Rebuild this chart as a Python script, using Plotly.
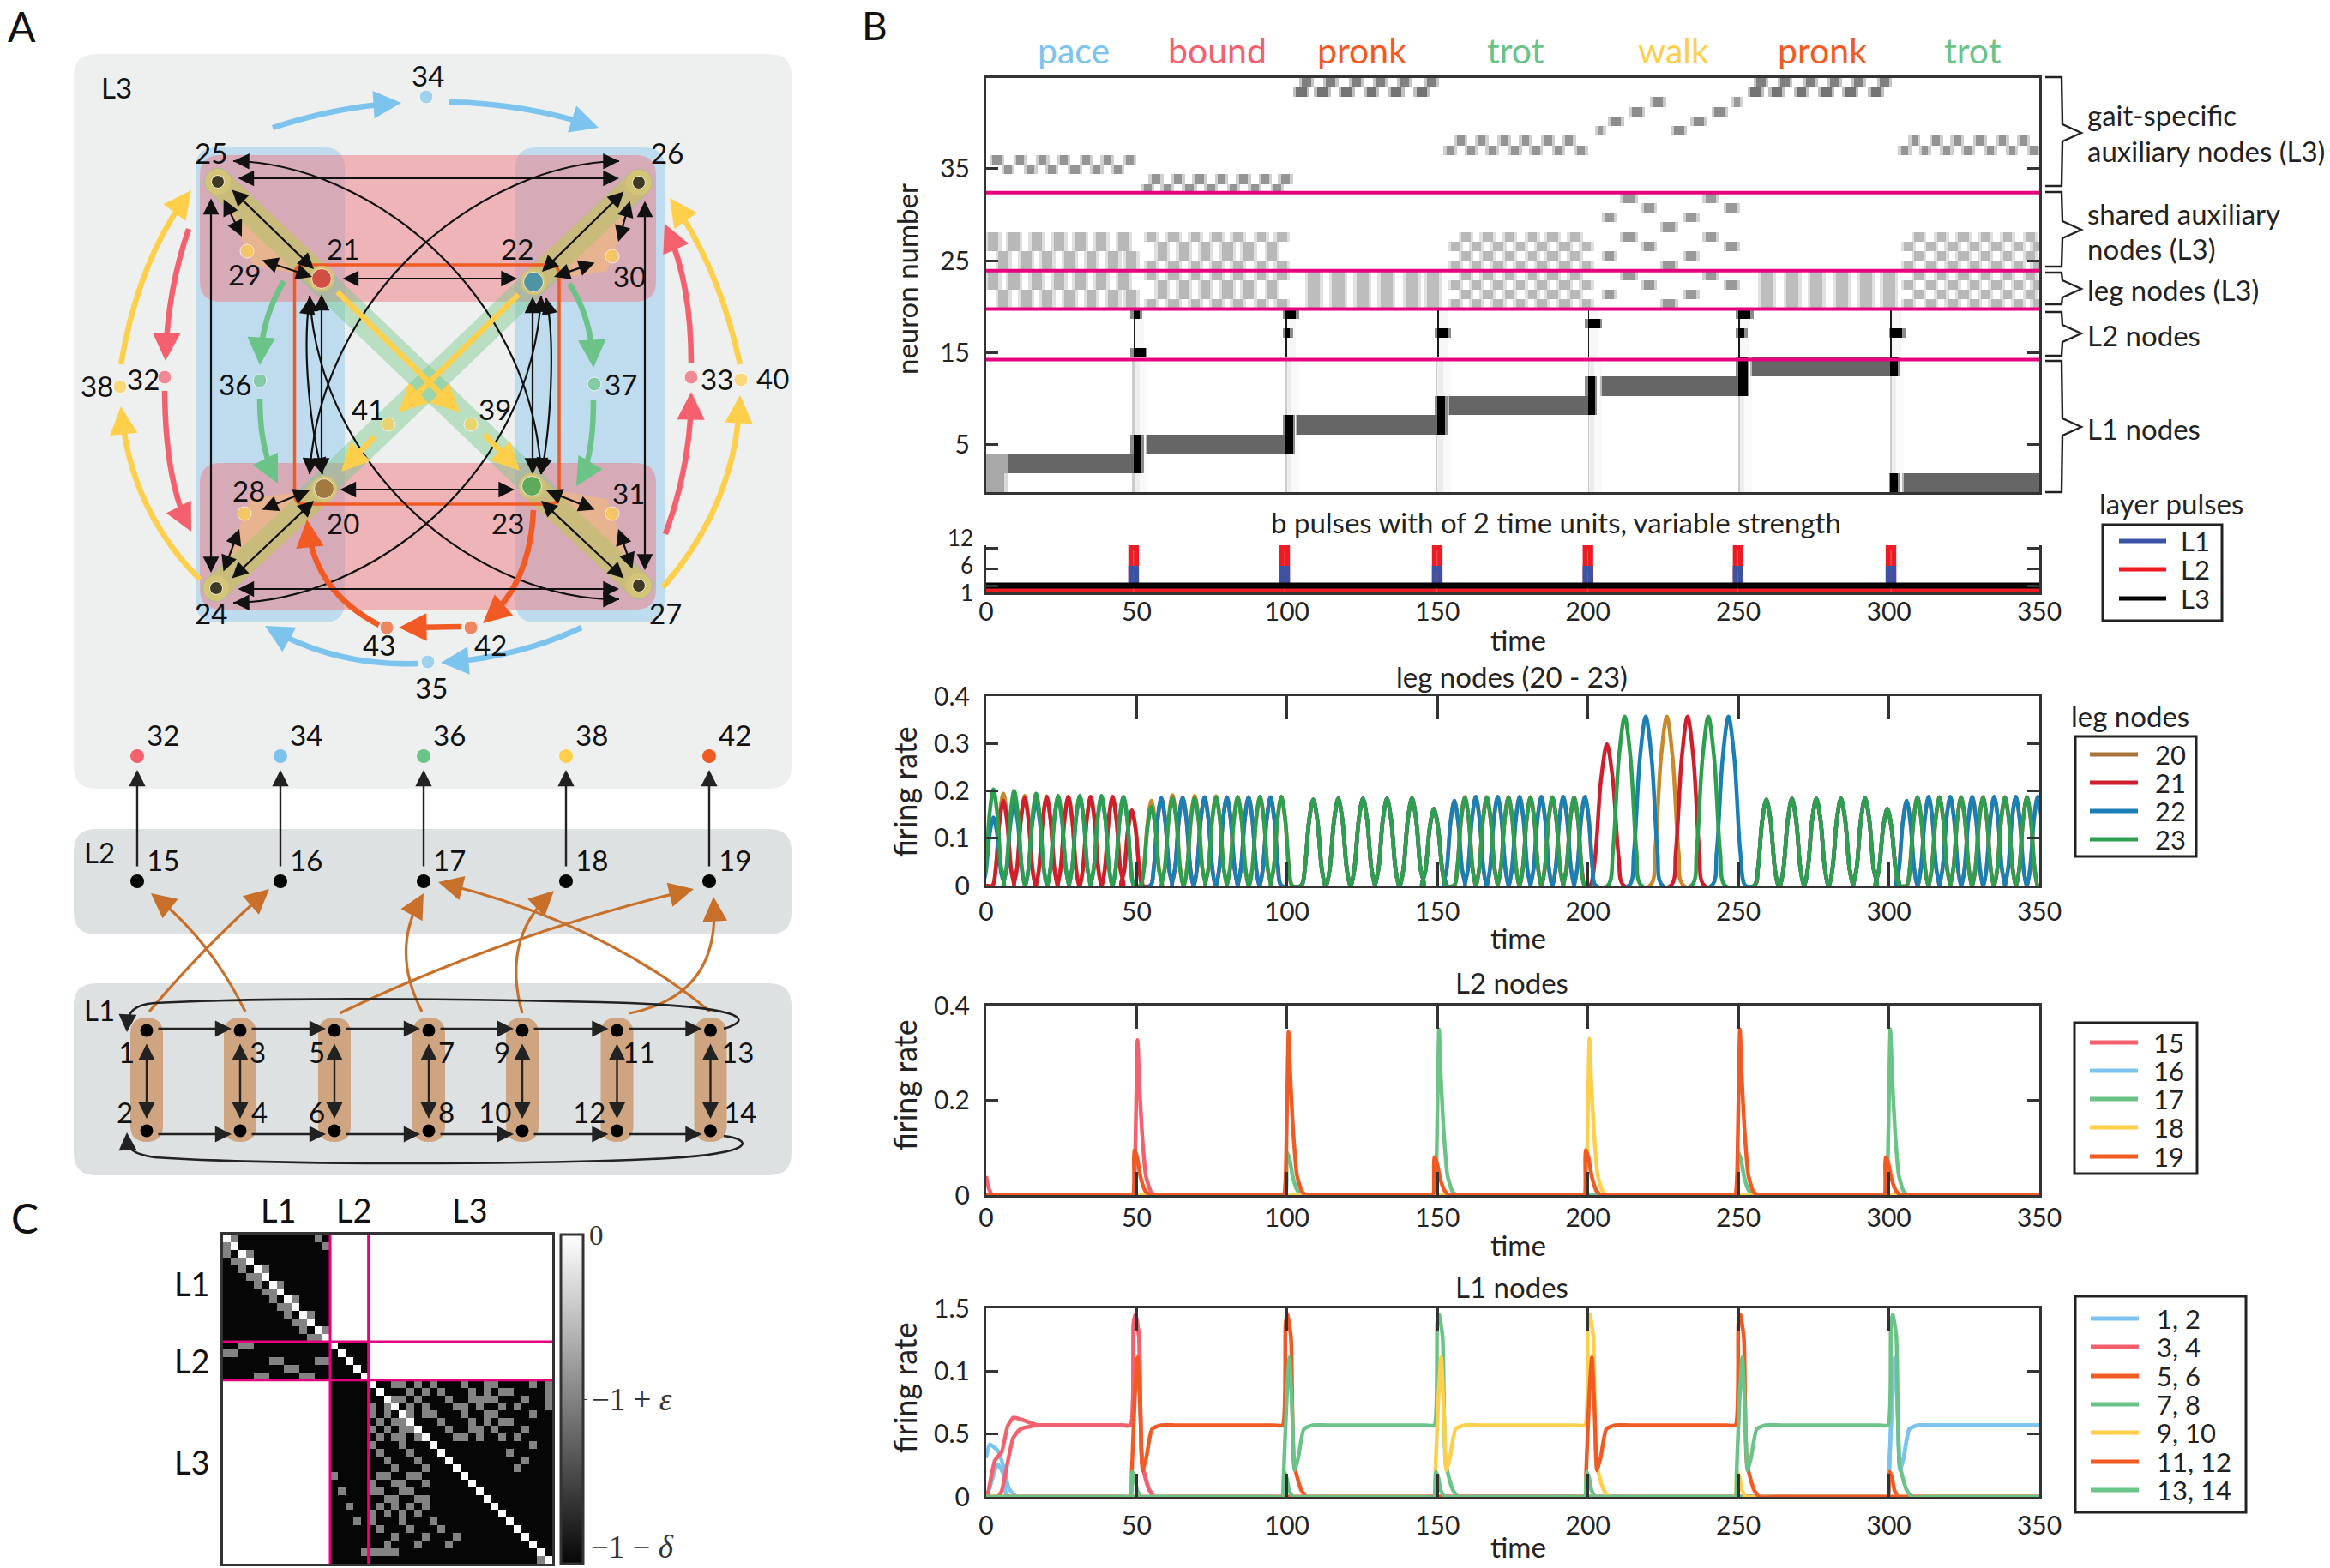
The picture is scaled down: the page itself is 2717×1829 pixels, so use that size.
import math
import numpy as np
import plotly.graph_objects as go

W, H = 2717, 1829
FONT = "Lato"
SERIF = "Liberation Serif"
DARK = "#333333"
C_PINK, C_SKY, C_MINT, C_YEL, C_ORG = "#f4606e", "#7cc4ee", "#6cc387", "#fdcf4b", "#f25a24"

# ---------------------------------------------------------------- panel B data
time_ticks = [0, 50, 100, 150, 200, 250, 300, 350]
pulse_times = [49, 99.2, 149.9, 200, 249.9, 300.7]
pulse_levels = {"L1": 6, "L2": 12}

gait_names = ["pace", "bound", "pronk", "trot", "walk", "pronk", "trot"]
gait_colors = [C_SKY, C_PINK, C_ORG, C_MINT, C_YEL, C_ORG, C_MINT]

# leg-node oscillation peaks, read per gait
pace_a_t = [2.4, 9.3, 16.6, 23.9, 31.1, 38.3, 45.6]
pace_b_t = [5.7, 12.8, 20.1, 27.3, 34.7, 42.0, 48.4]
bound_a_t = [54.9, 61.9, 69.3, 76.4, 83.6, 91.0, 98.1]
bound_b_t = [58.2, 65.3, 72.6, 80.0, 87.2, 94.5]
pronk1_t = [108.7, 117.0, 125.2, 133.2, 141.5, 148.8]
trot1_b_t = [155.6, 162.7, 170.0, 177.3, 184.5, 191.8, 199.0]
trot1_a_t = [159.1, 166.4, 173.6, 180.9, 188.2, 195.4]
pronk2_t = [259.3, 267.8, 275.9, 284.1, 292.1, 299.5]
trot2_b_t = [305.9, 313.2, 320.4, 327.7, 335.0, 342.2, 349.5]
trot2_a_t = [309.5, 316.8, 324.0, 331.3, 338.6, 345.9]

pace_a_h23 = [.203, .200, .194, .190, .190, .190, .188]
pace_a_h22 = [.144, .173, .176, .185, .188, .188, .188]
pace_b_h21 = [.179, .185, .187, .188, .188, .188, .159]
pace_b_h20 = [.194, .190, .189, .188, .188, .188, .159]
bound_a_h23 = [.166, .185, .185, .187, .187, .188, .188]
bound_a_h20 = [.179, .191, .190, .189, .188, .188, .188]
bound_b_h = [.185, .186, .187, .187, .187, .187]
pronk_h = [.182, .184, .184, .184, .185, .162]
trot_a_h = [.187, .187, .187, .187, .187, .187]
trot_b_h = [.179, .188, .188, .188, .188, .188, .188]

walk20_t, walk20_h = [226.2], [.357]
walk21_t, walk21_h = [206.3, 233.1], [.298, .357]
walk22_t, walk22_h = [219.2, 246.7], [.357, .357]
walk23_t, walk23_h = [212.2, 240.0], [.357, .357]

bump_offset = [-1, -.7, -.35, 0, .35, .7, 1]
bump_shape = [0, .2, .75, 1, .75, .2, 0]

# L2 pulse responses: (time, height)
l2_big = {15: [(50.3, .327)], 16: [], 17: [(150.5, .35), (300.5, .35)],
          18: [(200.5, .33)], 19: [(100.5, .345), (250.5, .35)]}
l2_small = {15: [], 16: [], 17: [(100, .09), (250, .09)], 18: [],
            19: [(49.3, .095), (149, .08), (199.3, .095), (299, .08)]}
l2_big_dt = [-4, -1.6, -1, -.5, 0, .6, 1.5, 2.8, 4.5, 6, 10]
l2_big_frac = [0, 0, .1, .55, 1, .72, .4, .12, .02, 0, 0]
l2_small_dt = [-3, -.5, -.2, 0, .8, 2, 3.5, 5, 9]
l2_small_frac = [0, 0, .8, 1, .85, .4, .1, 0, 0]

# L1 responses
l1_in_dt = [-4, -1, -.6, .4, 1.3, 2.3, 3, 4.2, 6.1, 9, 14]
l1_in_val = [0, 0, .2, .79, 1.11, .63, .21, .31, .54, .57, .57]
l1_out_dt = [-4, -1, 0, .6, 1.8, 2.8, 5.1, 7, 12]
l1_out_val = [.57, .57, 1.38, 1.45, 1.27, .27, .06, 0, 0]
l1_spike_dt = [-4, -1, -.7, -.4, .4, 1.2, 2.5, 6]
l1_spike_val = [0, 0, .1, .2, .15, .05, 0, 0]
pink_a_x = [0, .5, 2.9, 5.2, 7.1, 9, 12.3, 17.1, 24]
pink_a_y = [0, .02, .29, .36, .56, .63, .61, .57, .57]
pink_b_x = [0, 3.8, 5.2, 7.1, 9, 11.4, 17.1, 24]
pink_b_y = [0, 0, .05, .27, .47, .54, .57, .57]
blue_a_x = [0, 1.15, 3.8, 5.7, 7.6, 10, 14]
blue_a_y = [.31, .416, .37, .245, .064, .005, 0]
blue_b_x = [0, 1, 3.8, 5.7, 6.65, 8, 12]
blue_b_y = [0, .06, .26, .18, .02, 0, 0]
l1_labels = ["1, 2", "3, 4", "5, 6", "7, 8", "9, 10", "11, 12", "13, 14"]
l1_colors = [C_SKY, C_PINK, C_ORG, C_MINT, C_YEL, C_ORG, C_MINT]
l1_in = [[300.7], [], [49], [99.5], [149.9], [200], [250]]
l1_out = [[], [49], [99.5], [149.9], [200], [250], [300.7]]
l1_spikes = [[], [], [300.7], [49], [250], [], [99.5, 149.9, 200]]

# ---------------------------------------------------------------- raster events
# rows of the neuron raster and the times of their activity
raster_bands = [  # rows, t0, t1, gray
    ((1, 2), 0, 6, .66), ((3, 4), 0, 8, .66),
    ((3, 4), 7.6, 49, .4), ((5, 6), 53.6, 99.5, .4), ((7, 8), 103.6, 149.8, .4),
    ((9, 10), 154.2, 200, .4), ((11, 12), 204.6, 250, .4), ((13, 14), 254.6, 300.6, .4),
    ((1, 2), 305.2, 350, .4),
]
raster_black = [
    ((3, 4, 5, 6), 48.9, 51.6), ((5, 6, 7, 8), 99.5, 101.8), ((7, 8, 9, 10), 149.8, 152.5),
    ((9, 10, 11, 12), 200, 202.3), ((11, 12, 13, 14), 250, 252.9), ((13, 14, 1, 2), 300.6, 302.9),
    ((19,), 49, 51.2), ((19,), 99.5, 103), ((19,), 250, 254), ((18,), 200, 203.8),
    ((17,), 99.5, 101), ((17,), 149.8, 153.6), ((17,), 250, 252), ((17,), 300.6, 304.7),
    ((15,), 49, 52.8),
]
raster_sweep_t = [48.9, 99.5, 149.8, 200, 250, 300.6]
legs_a = (22, 23, 26, 27)
legs_b = (20, 21, 24, 25)
bound_rows_a = (20, 23, 24, 27)
bound_rows_b = (21, 22, 25, 26)
trot_rows_a = (21, 23, 25, 27)
trot_rows_b = (20, 22, 24, 26)
leg_rows = (20, 21, 22, 23)
raster_cells = [  # rows, times, half width, gray
    (legs_a, [2.4, 9.4, 16.9, 24.1, 31.1, 38.4, 45.8], 1.7, .72),
    (legs_b, [5.9, 13.2, 20.4, 27.6, 35, 42.3, 48.3], 1.7, .72),
    (bound_rows_a, [55, 62.3, 69.5, 76.8, 83.8, 91.4, 98.3], 1.6, .72),
    (bound_rows_b, [58.5, 65.8, 73, 80.3, 87.3, 94.9], 1.6, .72),
    (trot_rows_a, [159.4, 166.7, 174, 181.4, 188.3, 195.7], 1.6, .72),
    (trot_rows_b, [155.9, 162.9, 170.2, 177.6, 184.8, 192.2, 199.4], 1.6, .72),
    (trot_rows_a, [310.1, 317.5, 324.8, 332, 339.6, 347.1], 1.6, .72),
    (trot_rows_b, [306.4, 314, 321.2, 328.5, 335.7, 343, 349.7], 1.6, .72),
    (leg_rows, [108.8, 117, 125.1, 133.2, 141.4, 148.4], 2.0, .74),
    (leg_rows, [259.3, 268, 276.2, 284.3, 292.4, 300], 2.0, .74),
    ((23, 27, 31), [213.4, 240.7], 1.9, .6),
    ((22, 26, 30), [220.3, 247.7], 1.9, .6),
    ((21, 25, 29), [207, 234.3], 1.7, .6),
    ((20, 24, 28), [227.1], 1.9, .6),
    ((35,), [3.5, 11.1, 18.7, 25.6, 33.2, 40.4, 47.7], 1.3, .58),
    ((34,), [7.4, 14.8, 21.9, 29.5, 36.7, 43.9], 1.3, .58),
    ((33,), [56.5, 63.7, 71, 78.3, 85.5, 92.8, 99.5], 1.3, .58),
    ((32,), [53.6, 60.3, 67.5, 74.7, 82.1, 89.3, 96.6], 1.3, .58),
    ((37,), [157.7, 164.9, 172.2, 179.3, 186.6, 193.8], 1.2, .58),
    ((36,), [154.2, 161.2, 168.4, 175.7, 182.9, 190.1, 197.6], 1.2, .58),
    ((37,), [308.5, 315.7, 322.9, 330.2, 337.6, 344.8], 1.2, .58),
    ((36,), [305.2, 312, 319.2, 326.4, 333.7, 341, 348.3], 1.2, .58),
    ((43,), [106.5, 114.6, 122.8, 130.9, 139, 147.8], 1.5, .5),
    ((42,), [104.8, 111.7, 119.9, 128, 136.1, 144.9], 1.7, .45),
    ((43,), [257.5, 265.7, 273.8, 282, 290.1, 298.3], 1.5, .5),
    ((42,), [255.8, 262.8, 271, 279.1, 287.2, 295.7], 1.7, .45),
    ((38,), [204.3], .7, .6), ((38,), [230.2], 1.8, .55),
    ((39,), [209.3, 236.6], 1.8, .55),
    ((40,), [216.3, 243.6], 1.8, .55),
    ((41,), [223.2], 1.8, .55), ((41,), [249.4], 1.1, .6),
]
raster_separators = [14.25, 19.5, 23.5, 31.6]
raster_tick_rows = [5.4, 14.96, 24.5, 34.07]
raster_tick_text = ["5", "15", "25", "35"]

# ---------------------------------------------------------------- panel C data
matrix_gray = {
    0: [1, 12], 1: [0, 13], 2: [0, 3], 3: [1, 2], 4: [2, 5], 5: [3, 4], 6: [4, 7],
    7: [5, 6], 8: [6, 9], 9: [7, 8], 10: [8, 11], 11: [9, 10], 12: [10, 13], 13: [11, 12],
    14: [2, 3], 15: [0, 1], 16: [6, 7, 12, 13], 17: [8, 9], 18: [4, 5, 10, 11],
    19: [22, 23, 25, 27, 31, 34, 35, 40, 42],
    20: [24, 26, 28, 32, 34, 36, 37, 42],
    21: [22, 23, 25, 29, 32, 33, 34, 35, 39, 42],
    22: [19, 21, 24, 26, 30, 31, 33, 36, 38, 42],
    23: [19, 21, 24, 26, 27, 31, 34, 35, 40],
    24: [20, 22, 23, 28, 32, 34, 36, 37],
    25: [19, 21, 23, 24, 29, 32, 33, 35, 39],
    26: [20, 22, 23, 25, 30, 31, 33, 36, 38],
    27: [19, 23, 40],
    28: [20, 24, 37],
    29: [21, 25, 39],
    30: [22, 26, 38],
    31: [14, 20, 21, 24, 25],
    32: [19, 22, 23, 26],
    33: [15, 19, 20, 23, 24],
    34: [21, 22, 25, 26],
    35: [16, 20, 22, 24, 26],
    36: [19, 21, 23, 25],
    37: [17, 19, 23, 27],
    38: [20, 24, 28],
    39: [22, 26, 30],
    40: [21, 25, 29],
    41: [18, 19, 20, 21, 22],
    42: [41],
}
matrix_blocks_white = [((0, 13), (14, 42)), ((14, 18), (19, 42)), ((19, 42), (0, 13))]
matrix_separators = [13.5, 18.5]
matrix_group_size = 43

# ---------------------------------------------------------------- panel A data
node_ids = [25, 26, 24, 27, 21, 22, 20, 23, 29, 30, 28, 31, 34, 35, 36, 37, 38, 32, 33, 40, 41, 39, 42, 43]
node_x = [254, 745, 252, 745, 375, 622, 378, 620, 288, 714, 285, 714, 497, 499, 303, 693, 140, 192, 806, 864, 453, 549, 549, 451]
node_y = [212, 213, 686, 683, 325, 329, 570, 567, 293, 299, 599, 599, 113, 772, 444, 448, 451, 440, 440, 443, 495, 495, 732, 732]
node_col = ["#000000"] * 4 + ["#cf1f2e", "#1a7fb5", "#8e5a2b", "#2e9e4f"] + [C_YEL] * 4 + \
    [C_SKY, C_SKY, C_MINT, C_MINT, C_YEL, C_PINK, C_PINK, C_YEL, C_YEL, C_YEL, C_ORG, C_ORG]
node_label_x = [246, 778, 246, 776, 400, 603, 400, 592, 285, 734, 290, 733, 499, 503, 274, 724, 113, 167, 836, 901, 429, 577, 572, 442]
node_label_y = [178, 178, 715, 715, 290, 290, 610, 610, 320, 322, 572, 575, 88, 802, 448, 448, 450, 442, 442, 441, 477, 477, 752, 752]

l3_out_ids = [32, 34, 36, 38, 42]
l3_out_col = [C_PINK, C_SKY, C_MINT, C_YEL, C_ORG]
l2_ids = [15, 16, 17, 18, 19]
mid_x = [160, 327, 494, 660, 827]
mid_top_y, mid_low_y = 882, 1028

l1_top_ids = [1, 3, 5, 7, 9, 11, 13]
l1_bot_ids = [2, 4, 6, 8, 10, 12, 14]
l1_x = [171, 280, 390, 500, 609, 719.5, 828.5]
l1_top_y, l1_bot_y = 1202, 1319
l1_top_lx = [147.6, 300.7, 369, 520, 585, 744.6, 860]
l1_bot_lx = [145, 302.5, 369, 520, 577, 687, 863.4]

links_straight = [  # black bidirectional links
    (276, 208, 722, 208), (276, 687, 722, 687), (246, 230, 246, 668), (752, 233, 752, 665),
    (398, 325, 603, 325), (395, 571, 600, 571), (375, 342, 375, 553), (621, 345, 621, 553),
    (269, 220, 366, 314), (729, 222, 632, 317), (269, 676, 366, 584), (729, 676, 631, 584),
    (260, 231, 282, 276), (304, 303, 364, 323), (735, 233, 721, 282), (695, 306, 646, 323),
    (260, 668, 279, 617), (304, 595, 361, 572), (738, 665, 721, 617), (695, 595, 637, 572),
]
links_arc = [
    ((272, 188), (430, 190), (620, 340), (631, 553)),
    ((722, 188), (564, 190), (374, 340), (361, 553)),
    ((272, 703), (430, 701), (620, 556), (631, 345)),
    ((722, 699), (564, 701), (374, 556), (361, 345)),
    ((361, 348), (352, 410), (362, 500), (376, 553)),
    ((637, 348), (648, 400), (642, 500), (631, 553)),
]
links_color_curved = [  # start, control, end, colour
    ((318, 149), (392, 125), (468, 120), C_SKY), ((524, 119), (612, 121), (698, 149), C_SKY),
    ((487, 774), (392, 777), (309, 730), C_SKY), ((678, 732), (606, 766), (514, 773), C_SKY),
    ((141, 425), (162, 303), (223, 222), C_YEL), ((233, 676), (153, 595), (141, 474), C_YEL),
    ((220, 267), (196, 337), (193, 421), C_PINK), ((192, 456), (193, 561), (223, 620), C_PINK),
    ((776, 623), (805, 544), (806, 457), C_PINK), ((806, 424), (806, 331), (775, 261), C_PINK),
    ((863, 425), (839, 314), (781, 231), C_YEL), ((773, 685), (857, 589), (863, 461), C_YEL),
    ((331, 328), (306, 370), (303, 426), C_MINT), ((303, 465), (303, 522), (324, 564), C_MINT),
    ((664, 331), (689, 370), (692, 429), C_MINT), ((692, 467), (692, 533), (672, 567), C_MINT),
    ((622, 595), (618, 679), (563, 727), C_ORG), ((442, 729), (367, 690), (358, 606), C_ORG),
]
links_color_straight = [
    (392, 339, 536, 481, C_YEL), (606, 342, 465, 481, C_YEL),
    (438, 508, 398, 550, C_YEL), (563, 505, 606, 549, C_YEL), (539, 731, 465, 732, C_ORG),
]
links_feed = [  # L1 -> L2 links
    ((286, 1180), (245, 1097), (176, 1042)), ((174, 1180), (239, 1103), (314, 1037)),
    ((492, 1180), (456, 1110), (494, 1042)), ((609, 1182), (585, 1097), (646, 1039)),
    ((396, 1182), (588, 1090), (809, 1037)), ((734, 1182), (839, 1161), (832, 1046)),
    ((828, 1180), (704, 1077), (511, 1029)),
]

# ---------------------------------------------------------------- helpers
shapes, notes, traces = [], [], []


def xd(a, b):
    return [a / W, b / W]


def yd(top, bot):
    return [1 - bot / H, 1 - top / H]


def text(x, y, s, size=33, color="#111111", anchor="center", angle=0, font=FONT):
    notes.append(dict(x=x, y=y, xref="x", yref="y", text=s, showarrow=False, xanchor=anchor, yanchor="middle",
                      textangle=angle, font=dict(family=font, size=size, color=color)))


def path(d, fill=None, line=None, width=0, layer="below"):
    shapes.append(dict(type="path", path=d, xref="x", yref="y", layer=layer,
                       fillcolor=fill or "rgba(0,0,0,0)",
                       line=dict(color=line or "rgba(0,0,0,0)", width=width)))


def rrect(x0, y0, x1, y1, r):
    return (f"M{x0+r} {y0} L{x1-r} {y0} Q{x1} {y0} {x1} {y0+r} L{x1} {y1-r} Q{x1} {y1} {x1-r} {y1} "
            f"L{x0+r} {y1} Q{x0} {y1} {x0} {y1-r} L{x0} {y0+r} Q{x0} {y0} {x0+r} {y0} Z")


def capsule(x0, y0, x1, y1, w):
    L = math.hypot(x1 - x0, y1 - y0)
    ux, uy = (x1 - x0) / L, (y1 - y0) / L
    nx, ny = -uy * w / 2, ux * w / 2
    k = w * .66
    return (f"M{x0+nx} {y0+ny} L{x1+nx} {y1+ny} C{x1+nx+ux*k} {y1+ny+uy*k} {x1-nx+ux*k} {y1-ny+uy*k} {x1-nx} {y1-ny} "
            f"L{x0-nx} {y0-ny} C{x0-nx-ux*k} {y0-ny-uy*k} {x0+nx-ux*k} {y0+ny-uy*k} {x0+nx} {y0+ny} Z")


def arrow(x0, y0, x1, y1, color="#111111", width=2.2, size=1.7, both=False):
    a = dict(x=x1, y=y1, ax=x0, ay=y0, xref="x", yref="y", axref="x", ayref="y", text="", showarrow=True,
             arrowhead=2, arrowsize=size, arrowwidth=width, arrowcolor=color)
    if both:
        a.update(arrowside="end+start", startarrowhead=2, startarrowsize=size)
    notes.append(a)


def head(px, py, tx, ty, color, width, size, tail=12):
    L = math.hypot(tx - px, ty - py)
    arrow(tx - (tx - px) / L * tail, ty - (ty - py) / L * tail, tx, ty, color, width, size)


def qcurve(p0, c, p1, color, width, size):
    L = math.hypot(p1[0] - c[0], p1[1] - c[1])
    ex, ey = p1[0] - (p1[0] - c[0]) / L * 8, p1[1] - (p1[1] - c[1]) / L * 8
    path(f"M{p0[0]} {p0[1]} Q{c[0]} {c[1]} {ex} {ey}", line=color, width=width)
    head(c[0], c[1], p1[0], p1[1], color, width, size)


# ---------------------------------------------------------------- panel A shapes
path(rrect(86, 63, 923, 920, 26), fill="#eef0ef")
path(rrect(86, 967, 923, 1090, 26), fill="#dde1e1")
path(rrect(86, 1147, 923, 1371, 26), fill="#dde1e1")
path(rrect(228, 172, 402, 726, 24), fill="#bfdcef")
path(rrect(601, 172, 775, 726, 24), fill="#bfdcef")
path(rrect(233, 181, 765, 352, 24), fill="rgba(240,120,130,.5)")
path(rrect(233, 540, 765, 711, 24), fill="rgba(240,120,130,.5)")
path(capsule(254, 212, 745, 683, 32), fill="rgba(120,200,140,.45)")
path(capsule(745, 213, 252, 686, 32), fill="rgba(120,200,140,.45)")
for hub, aux, leg in [((254, 212), (288, 293), (375, 325)), ((745, 213), (714, 299), (622, 329)),
                      ((252, 686), (285, 599), (378, 570)), ((745, 683), (714, 599), (620, 567))]:
    dx, dy = aux[0] - hub[0], aux[1] - hub[1]
    path(f"M{hub[0]} {hub[1]} L{hub[0]+dx*1.2} {hub[1]+dy*1.2} L{leg[0]} {leg[1]} Z", fill="#e8b48f")
    path(capsule(hub[0], hub[1], leg[0], leg[1], 30), fill="#c9bb7c")
path(rrect(343.5, 309, 652, 588, 12), line=C_ORG, width=3.5)

for x0, y0, x1, y1 in links_straight:
    arrow(x0, y0, x1, y1, both=True)
for p0, c1, c2, p1 in links_arc:
    path(f"M{p0[0]} {p0[1]} C{c1[0]} {c1[1]} {c2[0]} {c2[1]} {p1[0]} {p1[1]}", line="#111111", width=2.2)
    head(c1[0], c1[1], p0[0], p0[1], "#111111", 2.2, 1.7, 8)
    head(c2[0], c2[1], p1[0], p1[1], "#111111", 2.2, 1.7, 8)
for p0, c, p1, col in links_color_curved:
    qcurve(p0, c, p1, col, 6.5, 1.0)
for x0, y0, x1, y1, col in links_color_straight:
    arrow(x0, y0, x1, y1, col, 6.5, 1.0)

traces.append(go.Scatter(x=[375, 622, 378, 620, 254, 745, 252, 745], y=[325, 329, 570, 567, 212, 213, 686, 683],
                         mode="markers", marker=dict(size=30, color="#d3c477"), xaxis="x", yaxis="y", hoverinfo="skip"))
traces.append(go.Scatter(x=node_x, y=node_y, mode="markers", xaxis="x", yaxis="y", text=node_ids,
                         marker=dict(size=[15] * 4 + [23] * 4 + [16] * 16, color=node_col)))
for i, n in enumerate(node_ids):
    text(node_label_x[i], node_label_y[i], str(n))
text(136, 102, "L3")
text(116, 994, "L2")
text(116, 1178, "L1")

traces.append(go.Scatter(x=mid_x, y=[mid_top_y] * 5, mode="markers", xaxis="x", yaxis="y",
                         marker=dict(size=16, color=l3_out_col)))
traces.append(go.Scatter(x=mid_x, y=[mid_low_y] * 5, mode="markers", xaxis="x", yaxis="y",
                         marker=dict(size=16, color="#000000")))
for i, x in enumerate(mid_x):
    text(x + 30, mid_top_y - 25, str(l3_out_ids[i]))
    text(x + 30, mid_low_y - 25, str(l2_ids[i]))
    arrow(x, mid_low_y - 16, x, mid_top_y + 16, "#222222", 2.4, 1.6)

for x in l1_x:
    path(rrect(x - 19, 1187, x + 19, 1332, 19), fill="#cfa481")
for p0, c, p1 in links_feed:
    qcurve(p0, c, p1, "#c8702a", 3.2, 1.8)
path("M844 1200 C885 1188 860 1173 700 1169 C500 1164 300 1164 180 1170 C155 1172 150 1182 149 1192",
     line="#222222", width=2.6)
path("M844 1325 C880 1330 880 1345 780 1351 C600 1360 300 1358 180 1350 C155 1346 150 1340 149 1332",
     line="#222222", width=2.6)
head(149, 1180, 148, 1204, "#222222", 2.6, 1.6)
head(149, 1345, 148, 1321, "#222222", 2.6, 1.6)
for i, x in enumerate(l1_x):
    arrow(x, l1_top_y + 14, x, l1_bot_y - 14, "#222222", 2.4, 1.6, both=True)
    text(l1_top_lx[i], 1227, str(l1_top_ids[i]))
    text(l1_bot_lx[i], 1297, str(l1_bot_ids[i]))
    if i < len(l1_x) - 1:
        arrow(x + 12, 1200, l1_x[i + 1] - 10, 1200, "#222222", 2.4, 1.6)
        arrow(x + 12, 1323, l1_x[i + 1] - 10, 1323, "#222222", 2.4, 1.6)
traces.append(go.Scatter(x=l1_x * 2, y=[l1_top_y] * 7 + [l1_bot_y] * 7, mode="markers", xaxis="x", yaxis="y",
                         text=l1_top_ids + l1_bot_ids, marker=dict(size=15, color="#000000")))

text(25, 30, "A", size=48)
text(1020, 29, "B", size=46)
text(29, 1420, "C", size=48)

# ---------------------------------------------------------------- raster (axes 2)
t_grid = np.arange(0.25, 350, .5)
rows = np.ones((43, t_grid.size))


def paint(row, t0, t1, gray, fringe=1.0):
    r = rows[row - 1]
    r[(t_grid >= t0) & (t_grid <= t1)] = np.minimum(r[(t_grid >= t0) & (t_grid <= t1)], gray)
    if fringe:
        edge = ((t_grid >= t0 - fringe) & (t_grid < t0)) | ((t_grid > t1) & (t_grid <= t1 + fringe))
        r[edge] = np.minimum(r[edge], 1 - (1 - gray) * .45)


for t in raster_sweep_t:
    for row in range(1, 15):
        paint(row, t - .2, t + .4, .8, 0)
        paint(row, t + .4, t + 2, .93, 0)
        paint(row, t + 2, t + 4.5, .975, 0)
    for row in range(15, 20):
        paint(row, t, t + .5, .1, 0)
        paint(row, t + .5, t + 3.5, .97, 0)
for rset, t0, t1, g in raster_bands:
    for row in rset:
        paint(row, t0, t1, g, .8)
for rset, times, hw, g in raster_cells:
    for row in rset:
        for t in times:
            paint(row, t - hw, t + hw, g, 1.0)
for rset, t0, t1 in raster_black:
    for row in rset:
        paint(row, t0, t1, 0, .8)
traces.append(go.Heatmap(x=t_grid, y=np.arange(1, 44), z=rows, xaxis="x2", yaxis="y2", zmin=0, zmax=1, showscale=False,
                         colorscale=[[0, "#000000"], [1, "#ffffff"]]))
sep_x, sep_y = [], []
for s in raster_separators:
    sep_x += [0, 350, None]
    sep_y += [s, s, None]
traces.append(go.Scatter(x=sep_x, y=sep_y, mode="lines", xaxis="x2", yaxis="y2", line=dict(color="#e6007e", width=4)))

# ---------------------------------------------------------------- pulses (axes 3)


def pulse_line(base, level):
    xs, ys = [0], [base]
    for p in pulse_times:
        xs += [p - .9, p - .9, p + .9, p + .9]
        ys += [base, level, level, base]
    return xs + [350], ys + [base]


lx, ly = pulse_line(-.5, pulse_levels["L2"])
traces.append(go.Scatter(x=lx, y=ly, mode="lines", xaxis="x3", yaxis="y3", line=dict(color="#ed1c24", width=6)))
lx, ly = pulse_line(1, pulse_levels["L1"])
traces.append(go.Scatter(x=lx, y=ly, mode="lines", xaxis="x3", yaxis="y3", line=dict(color="#3a53a4", width=6)))
traces.append(go.Scatter(x=[0, 350], y=[1, 1], mode="lines", xaxis="x3", yaxis="y3", line=dict(color="#000000", width=7)))
for y, s in [(627, "12"), (659, "6"), (691, "1")]:
    text(1137, y, s, size=26, color="#222222", anchor="right")


# ---------------------------------------------------------------- leg nodes (axes 4)
def half_width(t):
    if 204 < t < 250:
        return 5.6
    if 104 < t < 150 or 255 < t < 301:
        return 4.0
    return 3.6


def bumps(times, heights):
    xs, ys = [], []
    for t, h in sorted(zip(times, heights)):
        w = half_width(t)
        xs += [t + o * w for o in bump_offset]
        ys += [h * s for s in bump_shape]
    return [0] + xs + [350] if xs[0] > 0 else xs + [350], [0] + ys + [0] if xs[0] > 0 else ys + [0]


leg_series = {
    20: (pace_b_t + bound_a_t + pronk1_t + trot1_b_t + walk20_t + pronk2_t + trot2_b_t,
         pace_b_h20 + bound_a_h20 + pronk_h + trot_b_h + walk20_h + pronk_h + trot_b_h, "#c8892b"),
    21: (pace_b_t + bound_b_t + pronk1_t + trot1_a_t + walk21_t + pronk2_t + trot2_a_t,
         pace_b_h21 + bound_b_h + pronk_h + trot_a_h + walk21_h + pronk_h + trot_a_h, "#cf1f2e"),
    22: (pace_a_t + bound_b_t + pronk1_t + trot1_b_t + walk22_t + pronk2_t + trot2_b_t,
         pace_a_h22 + bound_b_h + pronk_h + trot_b_h + walk22_h + pronk_h + trot_b_h, "#1a7fb5"),
    23: (pace_a_t + bound_a_t + pronk1_t + trot1_a_t + walk23_t + pronk2_t + trot2_a_t,
         pace_a_h23 + bound_a_h23 + pronk_h + trot_a_h + walk23_h + pronk_h + trot_a_h, "#2e9e4f"),
}
for n, (ts, hs, col) in leg_series.items():
    lx, ly = bumps(ts, hs)
    traces.append(go.Scatter(x=lx, y=ly, mode="lines", name=str(n), xaxis="x4", yaxis="y4",
                             line=dict(color=col, width=4.5, shape="spline", smoothing=.9)))

# ---------------------------------------------------------------- L2 nodes (axes 5)
l2_colors = {15: C_PINK, 16: C_SKY, 17: C_MINT, 18: C_YEL, 19: C_ORG}
for n in l2_ids:
    pts = []
    for t, h in l2_big[n]:
        pts += [(t + d, h * f) for d, f in zip(l2_big_dt, l2_big_frac)]
    for t, h in l2_small[n]:
        pts += [(t + d, h * f) for d, f in zip(l2_small_dt, l2_small_frac)]
    pts = sorted(pts)
    head_pts = [(0, .04), (1, .012), (2.2, 0), (5, 0)] if n == 15 else [(0, 0)]
    pts = head_pts + pts + [(350, 0)]
    traces.append(go.Scatter(x=[p[0] for p in pts], y=[p[1] for p in pts], mode="lines", name=str(n), xaxis="x5",
                             yaxis="y5", line=dict(color=l2_colors[n], width=4.5, shape="spline", smoothing=.5)))

# ---------------------------------------------------------------- L1 nodes (axes 6)
for i, lab in enumerate(l1_labels):
    variants = [([], [])]
    if i == 0:
        variants = [(blue_a_x, blue_a_y), (blue_b_x, blue_b_y)]
    if i == 1:
        variants = [(pink_a_x, pink_a_y), (pink_b_x, pink_b_y)]
    for vx, vy in variants:
        pts = list(zip(vx, vy))
        for t in l1_in[i]:
            pts += [(t + d, v) for d, v in zip(l1_in_dt, l1_in_val)]
        for t in l1_out[i]:
            pts += [(t + d, v) for d, v in zip(l1_out_dt, l1_out_val)]
        for t in l1_spikes[i]:
            pts += [(t + d, v) for d, v in zip(l1_spike_dt, l1_spike_val)]
        pts = sorted(pts)
        if pts[0][0] > 0:
            pts = [(0, 0)] + pts
        end = .57 if i == 0 else 0
        pts.append((350, end))
        traces.append(go.Scatter(x=[p[0] for p in pts], y=[p[1] for p in pts], mode="lines", name=lab, xaxis="x6",
                                 yaxis="y6", line=dict(color=l1_colors[i], width=4.5, shape="spline", smoothing=.5)))

# ---------------------------------------------------------------- matrix (axes 7)
mat = np.zeros((matrix_group_size, matrix_group_size))
for (r0, r1), (c0, c1) in matrix_blocks_white:
    mat[r0:r1 + 1, c0:c1 + 1] = 1
for r, cols in matrix_gray.items():
    for c in cols:
        mat[r, c] = .5
    mat[r, r] = 1
traces.append(go.Heatmap(z=mat, xaxis="x7", yaxis="y7", zmin=0, zmax=1,
                         colorscale=[[0, "#060606"], [1, "#ffffff"]],
                         colorbar=dict(x=654 / W, xanchor="left", y=1 - 1440 / H, yanchor="top", len=384, lenmode="pixels",
                                       thickness=26, thicknessmode="pixels", xpad=0, ypad=0, outlinecolor=DARK,
                                       outlinewidth=3, tickvals=[.5], showticklabels=False,
                                       ticks="outside", ticklen=4, tickcolor=DARK)))
text(695, 1441, "0", size=33, color="#333333", font=SERIF)
text(737, 1632, "−1 + <i>ε</i>", size=37, color="#333333", font=SERIF)
text(737, 1804, "−1 − <i>δ</i>", size=37, color="#333333", font=SERIF)
sep_x, sep_y = [], []
for s in matrix_separators:
    sep_x += [s, s, None, -.5, 42.5, None]
    sep_y += [-.5, 42.5, None, s, s, None]
traces.append(go.Scatter(x=sep_x, y=sep_y, mode="lines", xaxis="x7", yaxis="y7", line=dict(color="#e6007e", width=3)))
text(325, 1411, "L1", size=38)
text(413, 1411, "L2", size=38)
text(548, 1411, "L3", size=38)
text(224, 1497, "L1", size=38)
text(224, 1587, "L2", size=38)
text(224, 1705, "L3", size=38)

# ---------------------------------------------------------------- panel B text and keys
LAB = 33
gait_cx = [1252, 1419, 1588, 1767, 1951, 2125, 2300]
for gx, name, col in zip(gait_cx, gait_names, gait_colors):
    text(gx, 58, name, size=41, color=col)
text(1057, 326, "neuron number", size=33, color="#222222", angle=-90)
text(1814, 609, "b pulses with of 2 time units, variable strength", size=LAB, color="#222222")
text(1770, 746, "time", size=LAB, color="#222222")
text(1763, 789, "leg nodes (20 - 23)", size=LAB, color="#222222")
text(1770, 1094, "time", size=LAB, color="#222222")
text(1055, 924, "firing rate", size=36, color="#222222", angle=-90)
text(1763, 1146, "L2 nodes", size=LAB, color="#222222")
text(1770, 1452, "time", size=LAB, color="#222222")
text(1055, 1266, "firing rate", size=36, color="#222222", angle=-90)
text(1763, 1501, "L1 nodes", size=LAB, color="#222222")
text(1770, 1804, "time", size=LAB, color="#222222")
text(1055, 1619, "firing rate", size=36, color="#222222", angle=-90)

for x, y, s in [(2432, 134, "gait-specific"), (2432, 176, "auxiliary nodes (L3)"), (2432, 249, "shared auxiliary"),
                (2432, 290, "nodes (L3)"), (2432, 338, "leg nodes (L3)"), (2432, 391, "L2 nodes"), (2432, 500, "L1 nodes")]:
    text(x, y, s, size=LAB, color="#222222", anchor="left")
for y0, tip, y1 in [(90, 155, 217), (224, 268, 311), (318, 337, 355), (364, 389, 415), (421, 498, 574)]:
    path(f"M2385 {y0} L2404 {y0} L2405 {tip-10} L2427 {tip} L2405 {tip+10} L2404 {y1} L2385 {y1}",
         line="#222222", width=2.4, layer="above")


def key(x0, y0, x1, y1, sx0, sx1, tx, items, ys):
    shapes.append(dict(type="rect", x0=x0, y0=y0, x1=x1, y1=y1, xref="x", yref="y", layer="above",
                       line=dict(color="#222222", width=3), fillcolor="rgba(0,0,0,0)"))
    for (lab, col), y in zip(items, ys):
        shapes.append(dict(type="line", x0=sx0, x1=sx1, y0=y, y1=y, xref="x", yref="y", layer="above",
                           line=dict(color=col, width=5)))
        text(tx, y, lab, size=31, color="#222222", anchor="left")


text(2532, 587, "layer pulses", size=LAB, color="#222222")
key(2452, 612, 2591, 724, 2471, 2526, 2541, [("L1", "#3a53a4"), ("L2", "#ed1c24"), ("L3", "#000000")], [631, 664, 698])
text(2484, 835, "leg nodes", size=LAB, color="#222222")
key(2420, 859, 2561, 999, 2437, 2493, 2511, [("20", "#a9743a"), ("21", "#cf1f2e"), ("22", "#1a7fb5"), ("23", "#2e9e4f")],
    [880, 913, 946, 979])
key(2419, 1193, 2562, 1369, 2437, 2493, 2509, [(str(n), l2_colors[n]) for n in l2_ids], [1216, 1249, 1282, 1315, 1349])
key(2420, 1512, 2619, 1764, 2438, 2494, 2513, list(zip(l1_labels, l1_colors)), [1538, 1571, 1605, 1638, 1671, 1705, 1738])

# ---------------------------------------------------------------- layout
tickf = dict(family=FONT, size=30, color="#222222")


def time_axis(standoff, mirror=True, ticks=True):
    return dict(domain=xd(1150, 2378), range=[0, 350], tickvals=time_ticks, ticks="inside" if ticks else "",
                ticklen=27, tickwidth=3, tickcolor=DARK, showline=True, linecolor=DARK, linewidth=3,
                mirror="allticks" if mirror else False, showgrid=False, zeroline=False, tickfont=tickf,
                ticklabelstandoff=standoff)


def value_axis(top, bot, rng, vals, labels, anchor):
    return dict(domain=yd(top, bot), range=rng, tickvals=vals, ticktext=labels, ticks="inside", ticklen=14, tickwidth=3,
                tickcolor=DARK, showline=True, linecolor=DARK, linewidth=3, mirror="allticks", showgrid=False,
                zeroline=False, tickfont=tickf, ticklabelstandoff=10, anchor=anchor)


hidden = dict(visible=False, showgrid=False, zeroline=False)
layout = dict(
    width=W, height=H, autosize=False, margin=dict(l=0, r=0, t=0, b=0, pad=0, autoexpand=False), showlegend=False,
    paper_bgcolor="#ffffff", plot_bgcolor="rgba(0,0,0,0)", shapes=shapes, annotations=notes,
    xaxis=dict(domain=[0, 1], range=[0, W], anchor="y", **hidden),
    yaxis=dict(domain=[0, 1], range=[H, 0], anchor="x", **hidden),
    xaxis2=dict(time_axis(0), anchor="y2", showticklabels=False, ticks="", mirror=True),
    yaxis2=value_axis(91, 574, [.5, 43.5], raster_tick_rows, raster_tick_text, "x2"),
    xaxis3=dict(time_axis(-6, mirror=False, ticks=False), anchor="y3"),
    yaxis3=dict(value_axis(636, 691, [-1, 12.75], [1, 6, 12], ["1", "6", "12"], "x3"), showticklabels=False),
    xaxis4=dict(time_axis(2), anchor="y4"),
    yaxis4=value_axis(812, 1033, [0, .4], [0, .1, .2, .3, .4], ["0", "0.1", "0.2", "0.3", "0.4"], "x4"),
    xaxis5=dict(time_axis(-2), anchor="y5"),
    yaxis5=value_axis(1173, 1394, [0, .4], [0, .2, .4], ["0", "0.2", "0.4"], "x5"),
    xaxis6=dict(time_axis(5), anchor="y6"),
    yaxis6=value_axis(1526, 1746, [0, 1.5], [0, .5, 1, 1.5], ["0", "0.5", "0.1", "1.5"], "x6"),
    xaxis7=dict(domain=xd(260, 644), range=[-.5, 42.5], anchor="y7", showticklabels=False, ticks="", showline=True,
                linecolor=DARK, linewidth=3, mirror=True, showgrid=False, zeroline=False),
    yaxis7=dict(domain=yd(1440, 1824), range=[42.5, -.5], anchor="x7", showticklabels=False, ticks="", showline=True,
                linecolor=DARK, linewidth=3, mirror=True, showgrid=False, zeroline=False),
)
fig = go.Figure(data=traces, layout=layout)
fig.write_html("out.html", config={"displayModeBar": False},
               post_script="document.body.style.margin='0';document.documentElement.style.overflow='hidden';")
